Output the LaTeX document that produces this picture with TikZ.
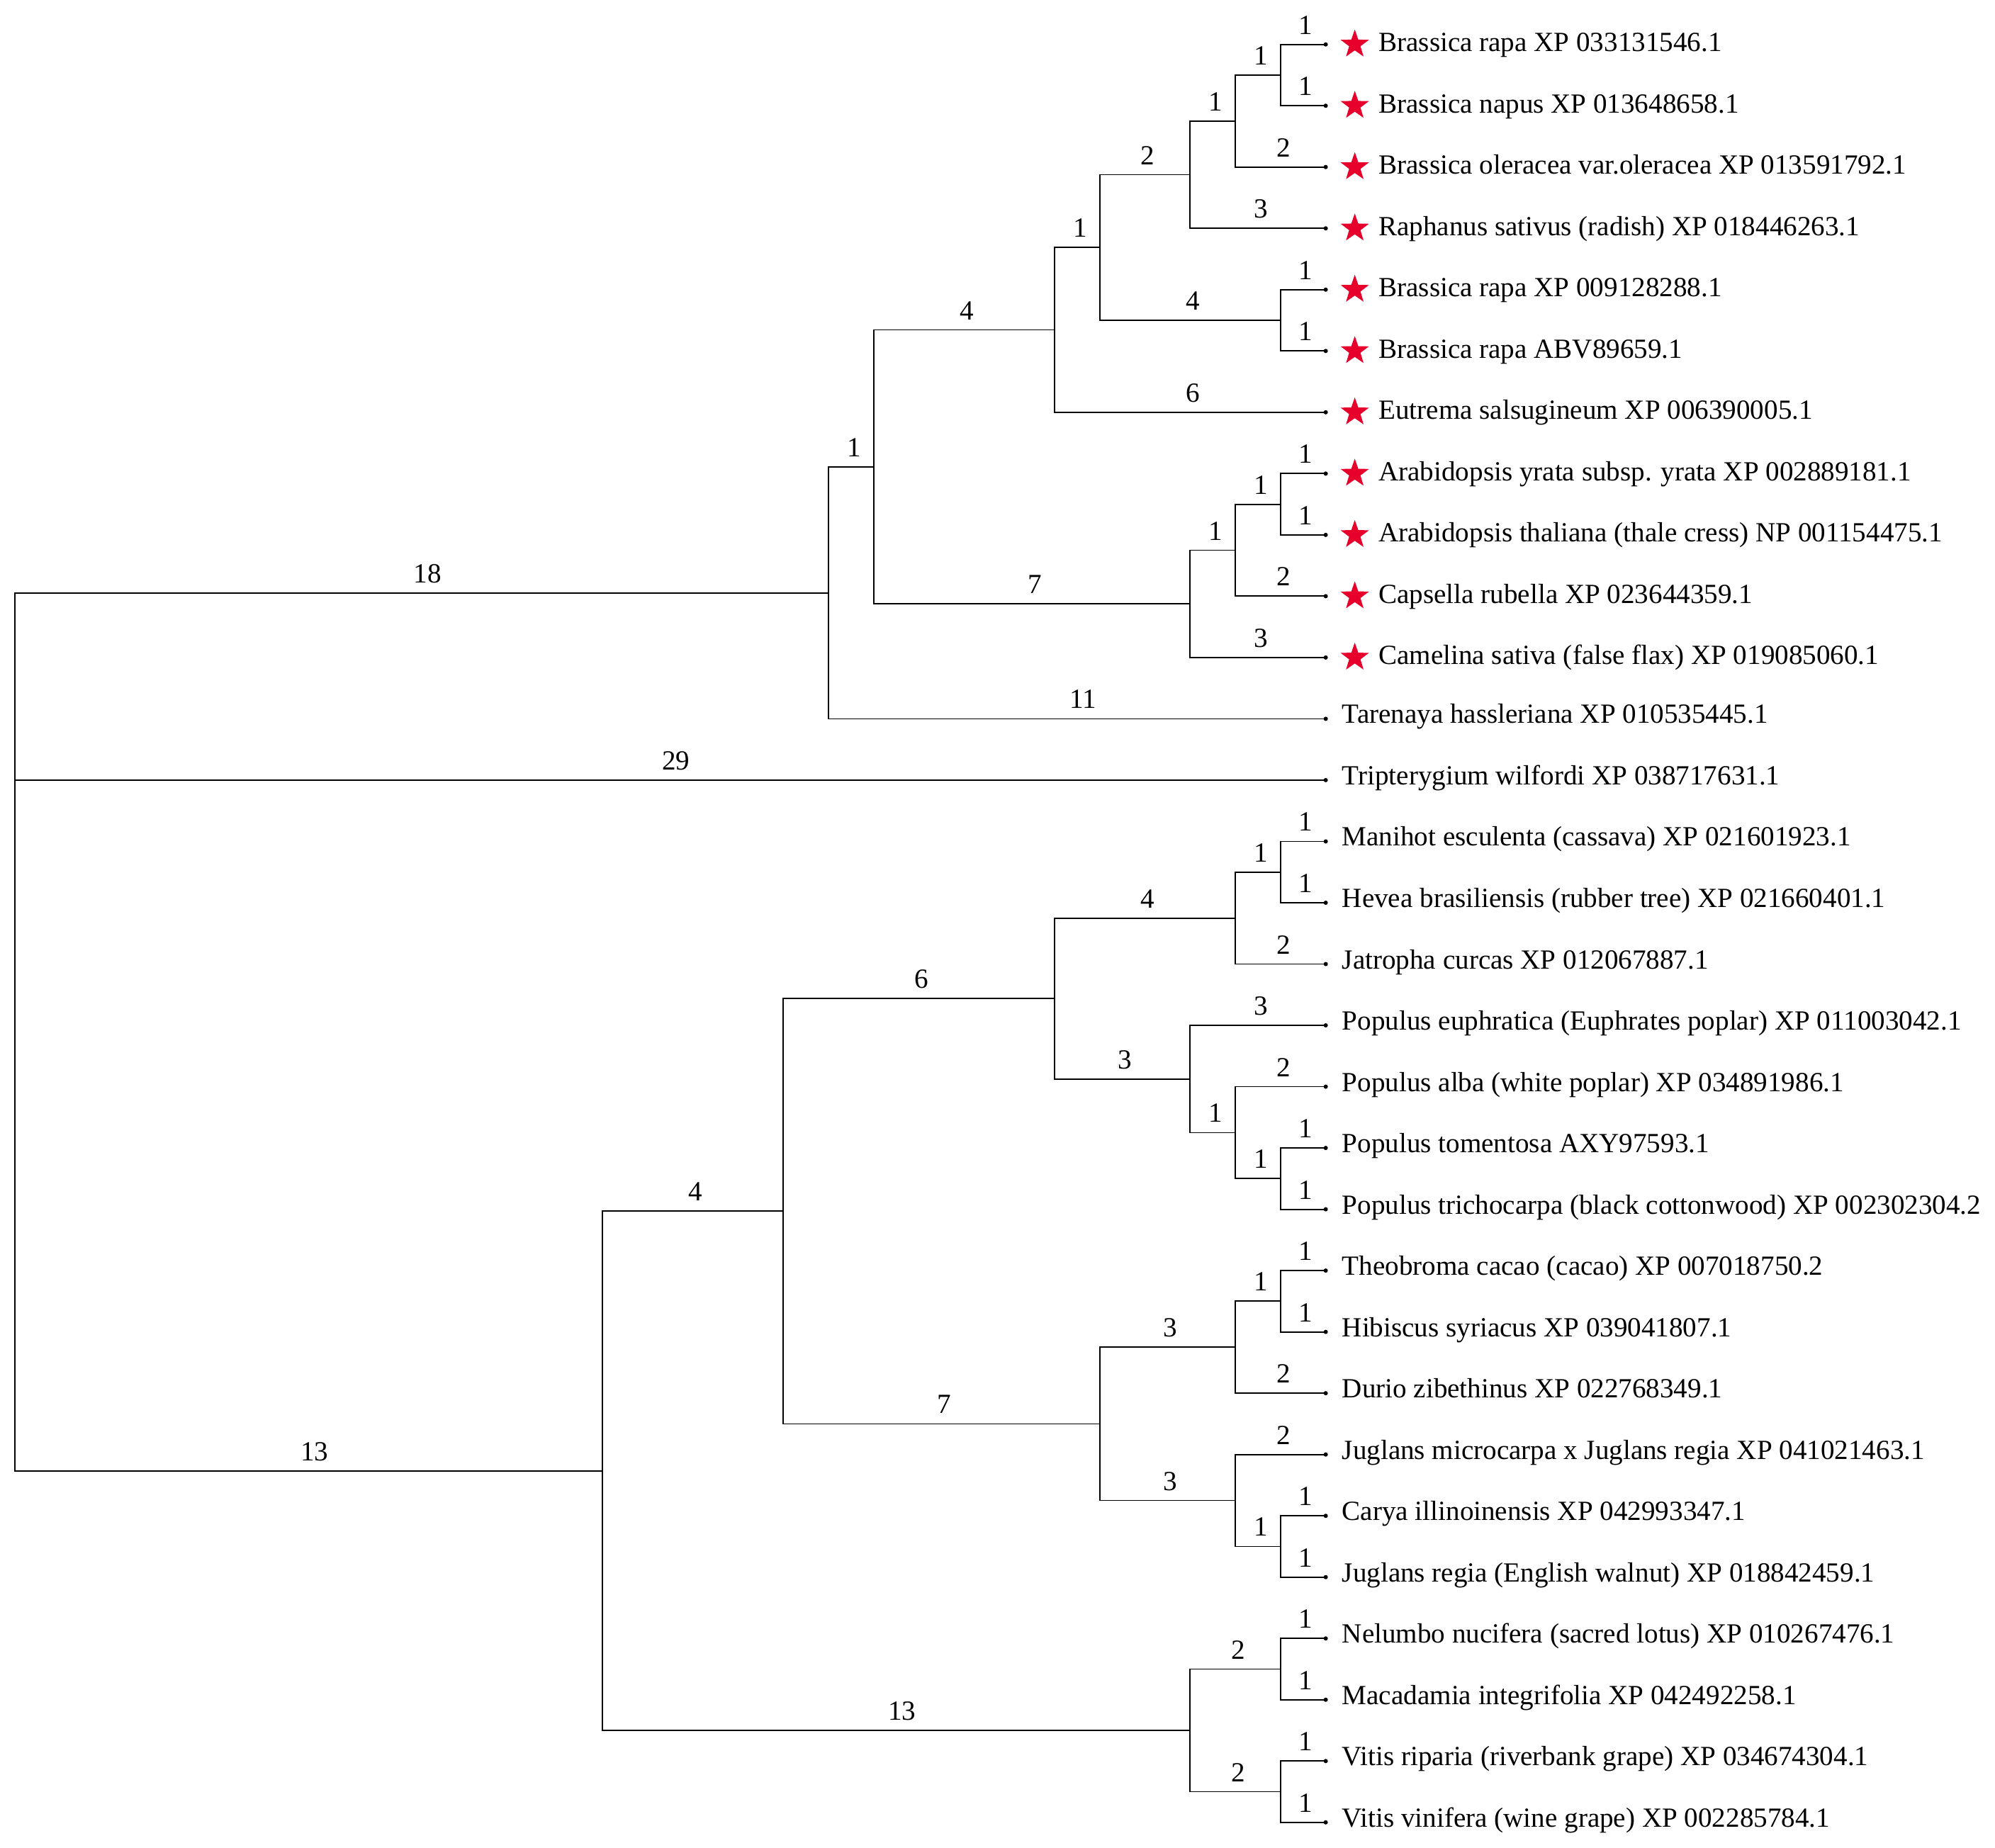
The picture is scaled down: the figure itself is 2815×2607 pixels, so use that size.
\documentclass[tikz,border=0pt]{standalone}
\usepackage{fontspec}
\setmainfont{Liberation Serif}
\usetikzlibrary{shapes.geometric}
\definecolor{starred}{RGB}{232,0,45}
\tikzset{
  branch/.style={line width=1.8pt, black},
  blab/.style={pos=0.75, anchor=base, xshift=4pt, yshift=14.5pt, inner sep=0pt, font=\fontsize{39.1}{47}\selectfont},
  blabw/.style={blab, xshift=4pt},
  leaflab/.style={anchor=base west, inner sep=0pt, font=\fontsize{39.1}{47}\selectfont},
  redstar/.style={star, star points=5, star point ratio=2.5, fill=starred, draw=none, inner sep=0pt, minimum size=42pt},
}
\begin{document}
\begin{tikzpicture}
\useasboundingbox (0,0) rectangle (2815pt,-2607pt);
\begin{scope}[shift={(21pt,-62.7pt)}, x=63.78pt, y=-86.52pt]
% leaves
\foreach \i/\s/\t in {
 0/1/Brassica rapa XP 033131546.1,
 1/1/Brassica napus XP 013648658.1,
 2/1/Brassica oleracea var.oleracea XP 013591792.1,
 3/1/Raphanus sativus (radish) XP 018446263.1,
 4/1/Brassica rapa XP 009128288.1,
 5/1/Brassica rapa ABV89659.1,
 6/1/Eutrema salsugineum XP 006390005.1,
 7/1/Arabidopsis yrata subsp. yrata XP 002889181.1,
 8/1/Arabidopsis thaliana (thale cress) NP 001154475.1,
 9/1/Capsella rubella XP 023644359.1,
 10/1/Camelina sativa (false flax) XP 019085060.1,
 11/0/Tarenaya hassleriana XP 010535445.1,
 12/0/Tripterygium wilfordi XP 038717631.1,
 13/0/Manihot esculenta (cassava) XP 021601923.1,
 14/0/Hevea brasiliensis (rubber tree) XP 021660401.1,
 15/0/Jatropha curcas XP 012067887.1,
 16/0/Populus euphratica (Euphrates poplar) XP 011003042.1,
 17/0/Populus alba (white poplar) XP 034891986.1,
 18/0/Populus tomentosa AXY97593.1,
 19/0/Populus trichocarpa (black cottonwood) XP 002302304.2,
 20/0/Theobroma cacao (cacao) XP 007018750.2,
 21/0/Hibiscus syriacus XP 039041807.1,
 22/0/Durio zibethinus XP 022768349.1,
 23/0/Juglans microcarpa x Juglans regia XP 041021463.1,
 24/0/Carya illinoinensis XP 042993347.1,
 25/0/Juglans regia (English walnut) XP 018842459.1,
 26/0/Nelumbo nucifera (sacred lotus) XP 010267476.1,
 27/0/Macadamia integrifolia XP 042492258.1,
 28/0/Vitis riparia (riverbank grape) XP 034674304.1,
 29/0/Vitis vinifera (wine grape) XP 002285784.1}{
  \coordinate (l\i) at (29,\i);
  \fill (l\i) circle (3pt);
  \ifnum\s=1
    \node[redstar] (s\i) at ([xshift=41pt]l\i) {};
    \node[leaflab] (t\i) at ([shift={(74.5pt,-10pt)}]l\i) {\t};
  \else
    \node[leaflab] (t\i) at ([shift={(23pt,-6.5pt)}]l\i) {\t};
  \fi
}
% internal nodes
\coordinate (n1) at (28,0.5);
\coordinate (n2) at (27,1.25);
\coordinate (n3) at (26,2.125);
\coordinate (n4) at (28,4.5);
\coordinate (n5) at (24,3.3125);
\coordinate (n6) at (23,4.65625);
\coordinate (n7) at (28,7.5);
\coordinate (n8) at (27,8.25);
\coordinate (n9) at (26,9.125);
\coordinate (n10) at (19,6.890625);
\coordinate (n11) at (18,8.9453125);
\coordinate (m1) at (28,13.5);
\coordinate (m2) at (27,14.25);
\coordinate (m3) at (28,18.5);
\coordinate (m4) at (27,17.75);
\coordinate (m5) at (26,16.875);
\coordinate (m6) at (23,15.5625);
\coordinate (m7) at (28,20.5);
\coordinate (m8) at (27,21.25);
\coordinate (m9) at (28,24.5);
\coordinate (m10) at (27,23.75);
\coordinate (m11) at (24,22.5);
\coordinate (m12) at (17,19.03125);
\coordinate (m13) at (28,26.5);
\coordinate (m14) at (28,28.5);
\coordinate (m15) at (26,27.5);
\coordinate (m16) at (13,23.265625);
\coordinate (root) at (0,16);
% branches
\begin{scope}[branch]
\draw (root) |- node[blabw]{18} (n11);
\draw (root) |- node[blabw]{29} (l12);
\draw (root) |- node[blabw]{13} (m16);
\draw (n11) |- node[blab]{1} (n10);
\draw (n11) |- node[blabw]{11} (l11);
\draw (n10) |- node[blab]{4} (n6);
\draw (n10) |- node[blab]{7} (n9);
\draw (n6) |- node[blab]{1} (n5);
\draw (n6) |- node[blab]{6} (l6);
\draw (n5) |- node[blab]{2} (n3);
\draw (n5) |- node[blab]{4} (n4);
\draw (n3) |- node[blab]{1} (n2);
\draw (n3) |- node[blab]{3} (l3);
\draw (n2) |- node[blab]{1} (n1);
\draw (n2) |- node[blab]{2} (l2);
\draw (n1) |- node[blab]{1} (l0);
\draw (n1) |- node[blab]{1} (l1);
\draw (n4) |- node[blab]{1} (l4);
\draw (n4) |- node[blab]{1} (l5);
\draw (n9) |- node[blab]{1} (n8);
\draw (n9) |- node[blab]{3} (l10);
\draw (n8) |- node[blab]{1} (n7);
\draw (n8) |- node[blab]{2} (l9);
\draw (n7) |- node[blab]{1} (l7);
\draw (n7) |- node[blab]{1} (l8);
\draw (m16) |- node[blab]{4} (m12);
\draw (m16) |- node[blabw]{13} (m15);
\draw (m12) |- node[blab]{6} (m6);
\draw (m12) |- node[blab]{7} (m11);
\draw (m6) |- node[blab]{4} (m2);
\draw (m6) |- node[blab]{3} (m5);
\draw (m2) |- node[blab]{1} (m1);
\draw (m2) |- node[blab]{2} (l15);
\draw (m1) |- node[blab]{1} (l13);
\draw (m1) |- node[blab]{1} (l14);
\draw (m5) |- node[blab]{3} (l16);
\draw (m5) |- node[blab]{1} (m4);
\draw (m4) |- node[blab]{2} (l17);
\draw (m4) |- node[blab]{1} (m3);
\draw (m3) |- node[blab]{1} (l18);
\draw (m3) |- node[blab]{1} (l19);
\draw (m11) |- node[blab]{3} (m8);
\draw (m11) |- node[blab]{3} (m10);
\draw (m8) |- node[blab]{1} (m7);
\draw (m8) |- node[blab]{2} (l22);
\draw (m7) |- node[blab]{1} (l20);
\draw (m7) |- node[blab]{1} (l21);
\draw (m10) |- node[blab]{2} (l23);
\draw (m10) |- node[blab]{1} (m9);
\draw (m9) |- node[blab]{1} (l24);
\draw (m9) |- node[blab]{1} (l25);
\draw (m15) |- node[blab]{2} (m13);
\draw (m15) |- node[blab]{2} (m14);
\draw (m13) |- node[blab]{1} (l26);
\draw (m13) |- node[blab]{1} (l27);
\draw (m14) |- node[blab]{1} (l28);
\draw (m14) |- node[blab]{1} (l29);
\end{scope}
\end{scope}
\end{tikzpicture}
\end{document}
